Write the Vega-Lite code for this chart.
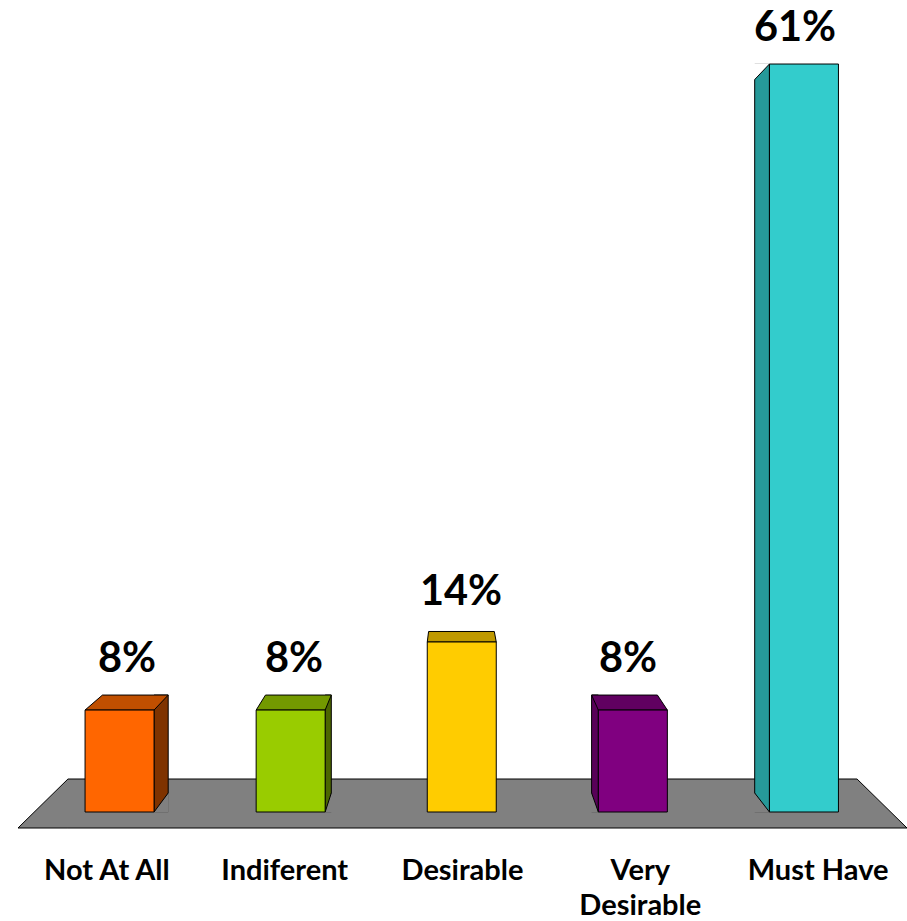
{
  "$schema": "https://vega.github.io/schema/vega-lite/v6.json",
  "width": 907,
  "height": 830,
  "autosize": "none",
  "padding": {"left": 0, "top": 0, "right": 0, "bottom": 91},
  "background": "white",
  "config": {"view": {"stroke": null}, "axis": {"grid": false}},
  "datasets": {
    "bars": [
      {"cat": "Not At All", "pct": 0.0833},
      {"cat": "Indiferent", "pct": 0.0833},
      {"cat": "Desirable", "pct": 0.1389},
      {"cat": "Very Desirable", "pct": 0.0833},
      {"cat": "Must Have", "pct": 0.6111}
    ],
    "floor": [
      {"fx": 0, "fy": -0.01307, "fy2": -0.01307},
      {"fx": 0.281, "fy": 0.02696, "fy2": -0.01307},
      {"fx": 4.719, "fy": 0.02696, "fy2": -0.01307},
      {"fx": 5, "fy": -0.01307, "fy2": -0.01307}
    ]
  },
  "resolve": {"scale": {"x": "independent", "y": "independent"}, "axis": {"x": "independent", "y": "independent"}},
  "layer": [
    {
      "data": {"name": "floor"},
      "mark": {"type": "area", "fill": "#808080", "stroke": "black", "strokeWidth": 1, "opacity": 1},
      "encoding": {
        "x": {"field": "fx", "type": "quantitative", "scale": {"domain": [0, 5], "range": [18, 907], "nice": false, "zero": false}, "axis": null},
        "y": {"field": "fy", "type": "quantitative", "scale": {"domain": [-0.0147, 0.6634], "nice": false, "zero": false}, "axis": null},
        "y2": {"field": "fy2"}
      }
    },
    {
      "data": {"name": "bars"},
      "resolve": {"scale": {"fill": "independent", "shape": "independent"}},
      "encoding": {
        "x": {"field": "cat", "type": "nominal", "sort": null, "scale": {"domain": ["Not At All", "Indiferent", "Desirable", "Very Desirable", "Must Have"], "range": [34, 889.5], "paddingInner": 0, "paddingOuter": 0}, "axis": null}
      },
      "layer": [
        {
          "transform": [{"filter": "datum.cat == 'Not At All'"}],
          "mark": {"type": "bar", "width": 14.15, "xOffset": 41.575, "yOffset": -15, "fill": "#7F3300", "stroke": "black", "strokeWidth": 1},
          "encoding": {
            "y": {"field": "pct", "type": "quantitative", "scale": {"domain": [-0.0147, 0.6634], "nice": false, "zero": false}, "axis": null},
            "y2": {"datum": 0}
          }
        },
        {
          "transform": [{"filter": "datum.cat == 'Indiferent'"}],
          "mark": {"type": "bar", "width": 6.15, "xOffset": 37.575, "yOffset": -15, "fill": "#4C6600", "stroke": "black", "strokeWidth": 1},
          "encoding": {
            "y": {"field": "pct", "type": "quantitative", "scale": {"domain": [-0.0147, 0.6634], "nice": false, "zero": false}, "axis": null},
            "y2": {"datum": 0}
          }
        },
        {
          "transform": [{"filter": "datum.cat == 'Very Desirable'"}],
          "mark": {"type": "bar", "width": 6.75, "xOffset": -37.875, "yOffset": -15, "fill": "#580058", "stroke": "black", "strokeWidth": 1},
          "encoding": {
            "y": {"field": "pct", "type": "quantitative", "scale": {"domain": [-0.0147, 0.6634], "nice": false, "zero": false}, "axis": null},
            "y2": {"datum": 0}
          }
        },
        {
          "transform": [{"filter": "datum.cat == 'Must Have'"}],
          "mark": {"type": "bar", "width": 14.75, "xOffset": -41.875, "fill": "#269999", "stroke": "black", "strokeWidth": 1},
          "encoding": {
            "y": {"field": "pct", "type": "quantitative", "scale": {"domain": [-0.0147, 0.6634], "nice": false, "zero": false}, "axis": null},
            "y2": {"datum": 0}
          }
        },
        {
          "transform": [{"filter": "datum.cat != 'Desirable'"}],
          "mark": {"type": "point", "filled": true, "fill": "#808080", "strokeWidth": 0, "size": 10000, "opacity": 1},
          "encoding": {
            "y": {"datum": 0, "type": "quantitative", "scale": {"domain": [-0.0147, 0.6634], "nice": false, "zero": false}, "axis": null},
            "shape": {"field": "cat", "type": "nominal", "legend": null, "scale": {"domain": ["Not At All", "Indiferent", "Very Desirable", "Must Have"], "range": [
              "M0.69,0L0.973,-0.38L0.987,-0.38L0.987,0.014L0.69,0.014Z",
              "M0.69,0L0.813,-0.38L0.827,-0.38L0.827,0.014L0.69,0.014Z",
              "M-0.69,0L-0.825,-0.38L-0.839,-0.38L-0.839,0.014L-0.69,0.014Z",
              "M-0.69,0L-0.985,-0.38L-0.999,-0.38L-0.999,0.014L-0.69,0.014Z"
            ]}}
          }
        },
        {
          "transform": [{"filter": "datum.cat != 'Desirable'"}],
          "mark": {"type": "point", "filled": false, "stroke": "black", "strokeWidth": 1, "size": 10000, "opacity": 1},
          "encoding": {
            "y": {"datum": 0, "type": "quantitative", "scale": {"domain": [-0.0147, 0.6634], "nice": false, "zero": false}, "axis": null},
            "shape": {"field": "cat", "type": "nominal", "legend": null, "scale": {"domain": ["Not At All", "Indiferent", "Very Desirable", "Must Have"], "range": [
              "M0.69,0L0.973,-0.38",
              "M0.69,0L0.813,-0.38",
              "M-0.69,0L-0.825,-0.38",
              "M-0.69,0L-0.985,-0.38"
            ]}}
          }
        },
        {
          "transform": [{"filter": "datum.cat == 'Must Have'"}],
          "mark": {"type": "point", "filled": true, "fill": "white", "strokeWidth": 0, "size": 10000, "opacity": 1, "shape": "M-0.69,0L-0.985,0.31L-0.999,0.31L-0.999,-0.014L-0.69,-0.014Z"},
          "encoding": {
            "y": {"field": "pct", "type": "quantitative", "scale": {"domain": [-0.0147, 0.6634], "nice": false, "zero": false}, "axis": null}
          }
        },
        {
          "transform": [{"filter": "datum.cat == 'Must Have'"}],
          "mark": {"type": "point", "filled": false, "stroke": "black", "strokeWidth": 1, "size": 10000, "opacity": 1, "shape": "M-0.69,0L-0.985,0.31"},
          "encoding": {
            "y": {"field": "pct", "type": "quantitative", "scale": {"domain": [-0.0147, 0.6634], "nice": false, "zero": false}, "axis": null}
          }
        },
        {
          "transform": [{"filter": "datum.cat != 'Must Have'"}],
          "mark": {"type": "point", "filled": true, "stroke": "black", "strokeWidth": 1, "size": 10000, "opacity": 1},
          "encoding": {
            "y": {"field": "pct", "type": "quantitative", "scale": {"domain": [-0.0147, 0.6634], "nice": false, "zero": false}, "axis": null},
            "fill": {"field": "cat", "type": "nominal", "legend": null, "scale": {"domain": ["Not At All", "Indiferent", "Desirable", "Very Desirable"], "range": ["#C04F00", "#739900", "#BF9900", "#600060"]}},
            "shape": {"field": "cat", "type": "nominal", "legend": null, "scale": {"domain": ["Not At All", "Indiferent", "Desirable", "Very Desirable"], "range": [
              "M-0.69,0L0.69,0L0.973,-0.3L-0.342,-0.3Z",
              "M-0.69,0L0.69,0L0.813,-0.3L-0.503,-0.3Z",
              "M-0.69,0L0.69,0L0.651,-0.21L-0.663,-0.21Z",
              "M-0.69,0L0.69,0L0.491,-0.3L-0.825,-0.3Z"
            ]}}
          }
        },
        {
          "mark": {"type": "bar", "width": 69, "stroke": "black", "strokeWidth": 1},
          "encoding": {
            "y": {"field": "pct", "type": "quantitative", "scale": {"domain": [-0.0147, 0.6634], "nice": false, "zero": false}, "axis": null},
            "y2": {"datum": 0},
            "fill": {"field": "cat", "type": "nominal", "legend": null, "scale": {"domain": ["Not At All", "Indiferent", "Desirable", "Very Desirable", "Must Have"], "range": ["#FF6600", "#99CC00", "#FFCC00", "#800080", "#33CCCC"]}}
          }
        }
      ]
    },
    {
      "data": {"name": "bars"},
      "mark": {"type": "text", "font": "Lato", "fontWeight": "bold", "fontSize": 41.5, "baseline": "alphabetic", "align": "center", "dy": -31, "color": "black"},
      "encoding": {
        "x": {"field": "cat", "type": "nominal", "sort": null, "scale": {"domain": ["Not At All", "Indiferent", "Desirable", "Very Desirable", "Must Have"], "range": [43.5, 878.5], "paddingInner": 0, "paddingOuter": 0}, "axis": null},
        "y": {"field": "pct", "type": "quantitative", "scale": {"domain": [-0.02301, 0.67144], "nice": false, "zero": false}, "axis": null},
        "text": {"field": "pct", "type": "quantitative", "format": ".0%"}
      }
    },
    {
      "data": {"name": "bars"},
      "mark": {"type": "tick", "opacity": 0},
      "encoding": {
        "x": {"field": "cat", "type": "nominal", "sort": null, "scale": {"domain": ["Not At All", "Indiferent", "Desirable", "Very Desirable", "Must Have"], "range": [18, 907], "paddingInner": 0, "paddingOuter": 0},
          "axis": {"title": null, "orient": "bottom", "domain": false, "ticks": false, "tickSize": 0, "labelAngle": 0, "labelPadding": 49, "labelBaseline": "alphabetic", "labelFont": "Lato", "labelFontWeight": "bold", "labelFontSize": 29, "labelColor": "black", "labelLimit": 0, "labelLineHeight": 35, "labelOverlap": false,
            "labelExpr": "datum.label == 'Very Desirable' ? ['Very', 'Desirable'] : datum.label"}}
      }
    }
  ]
}
